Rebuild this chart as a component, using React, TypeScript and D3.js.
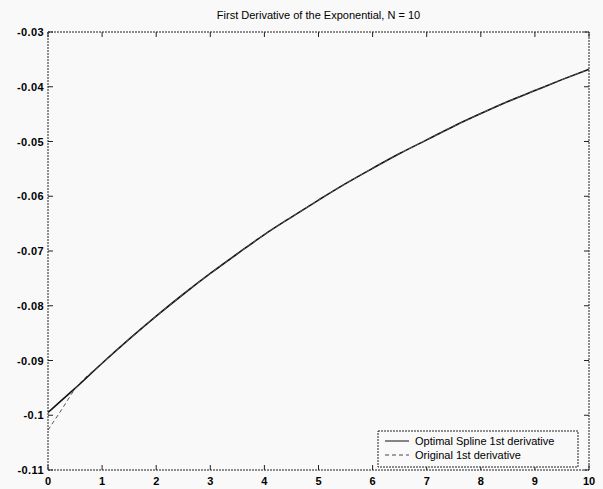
import { useRef, useEffect } from "react"
import * as d3 from "d3"

// values
const xs = [0, 0.25, 0.5, 1, 1.5, 2, 2.5, 3, 3.5, 4, 4.5, 5, 5.5, 6, 6.5, 7, 7.5, 8, 8.5, 9, 9.5, 10]
const splineValues = [
  -0.0995, -0.0973, -0.0951, -0.0905, -0.0861, -0.0819, -0.0779, -0.0741, -0.0705, -0.067, -0.0638,
  -0.0607, -0.0577, -0.0549, -0.0522, -0.0497, -0.0472, -0.0449, -0.0427, -0.0407, -0.0387, -0.0368,
]
const originalValues = [
  -0.1027, -0.099, -0.0952, -0.0905, -0.0861, -0.0819, -0.0779, -0.0741, -0.0705, -0.067, -0.0638,
  -0.0607, -0.0577, -0.0549, -0.0522, -0.0497, -0.0472, -0.0449, -0.0427, -0.0407, -0.0387, -0.0368,
]
const xTicks = [0, 1, 2, 3, 4, 5, 6, 7, 8, 9, 10]
const yTicks = [-0.03, -0.04, -0.05, -0.06, -0.07, -0.08, -0.09, -0.1, -0.11]
const legendLabels = ["Optimal Spline 1st derivative", "Original 1st derivative"]
const title = "First Derivative of the Exponential, N = 10"

export default function App() {
  const svgRef = useRef<SVGSVGElement>(null)

  function drawChart() {
    const width = 603
    const height = 489
    const left = 48
    const right = 589
    const top = 32
    const bottom = 470
    const font = "'Liberation Sans', Arial, sans-serif"

    const svg = d3.select(svgRef.current).attr("width", width).attr("height", height)
    svg.selectAll("*").remove()

    svg.append("rect").attr("width", width).attr("height", height).attr("fill", "#f9f9f9")

    const x = d3.scaleLinear().domain([0, 10]).range([left, right])
    const y = d3.scaleLinear().domain([-0.11, -0.03]).range([bottom, top])

    // box
    svg
      .append("rect")
      .attr("x", left)
      .attr("y", top)
      .attr("width", right - left)
      .attr("height", bottom - top)
      .attr("fill", "none")
      .attr("stroke", "#222")
      .attr("stroke-width", 1)
      .attr("stroke-dasharray", "2,1")

    const tickLen = 5
    const ticks = svg.append("g").attr("stroke", "#222").attr("stroke-width", 1)
    xTicks.forEach((t) => {
      ticks.append("line").attr("x1", x(t)).attr("x2", x(t)).attr("y1", bottom).attr("y2", bottom - tickLen)
      ticks.append("line").attr("x1", x(t)).attr("x2", x(t)).attr("y1", top).attr("y2", top + tickLen)
    })
    yTicks.forEach((t) => {
      ticks.append("line").attr("x1", left).attr("x2", left + tickLen).attr("y1", y(t)).attr("y2", y(t))
      ticks.append("line").attr("x1", right).attr("x2", right - tickLen).attr("y1", y(t)).attr("y2", y(t))
    })

    // tick labels
    svg
      .append("g")
      .selectAll("text")
      .data(xTicks)
      .enter()
      .append("text")
      .text((d) => d)
      .attr("x", (d) => x(d))
      .attr("y", bottom + 15)
      .attr("text-anchor", "middle")
      .style("font-size", "11px")
      .style("font-weight", "bold")
      .style("font-family", font)

    svg
      .append("g")
      .selectAll("text")
      .data(yTicks)
      .enter()
      .append("text")
      .text((d) => String(+d.toFixed(2)))
      .attr("x", left - 4)
      .attr("y", (d) => y(d) + 4)
      .attr("text-anchor", "end")
      .style("font-size", "11px")
      .style("font-weight", "bold")
      .style("letter-spacing", "0.4px")
      .style("font-family", font)

    // title
    svg
      .append("text")
      .text(title)
      .attr("x", (left + right) / 2)
      .attr("y", 19)
      .attr("text-anchor", "middle")
      .style("font-size", "11px")
      .style("font-family", font)

    // curves
    const line = d3
      .line<number>()
      .x((d, i) => x(xs[i]))
      .y((d) => y(d))
      .curve(d3.curveMonotoneX)

    svg
      .append("path")
      .attr("d", line(splineValues))
      .attr("fill", "none")
      .attr("stroke", "#111")
      .attr("stroke-width", 1.6)
    svg
      .append("path")
      .attr("d", line(originalValues))
      .attr("fill", "none")
      .attr("stroke", "#555")
      .attr("stroke-width", 1)
      .attr("stroke-dasharray", "4,3")

    // legend
    const legend = svg.append("g")
    legend
      .append("rect")
      .attr("x", 378)
      .attr("y", 431)
      .attr("width", 200)
      .attr("height", 36)
      .attr("fill", "#f9f9f9")
      .attr("stroke", "#222")
      .attr("stroke-dasharray", "2,1")
    legendLabels.forEach((label, i) => {
      const ly = 441 + i * 14
      legend
        .append("line")
        .attr("x1", 385)
        .attr("x2", 409)
        .attr("y1", ly)
        .attr("y2", ly)
        .attr("stroke", i === 0 ? "#111" : "#444")
        .attr("stroke-width", 1)
        .attr("stroke-dasharray", i === 0 ? null : "4,3")
      legend
        .append("text")
        .text(label)
        .attr("x", 415)
        .attr("y", ly + 4)
        .style("font-size", "11px")
        .style("font-family", font)
    })
  }

  useEffect(() => {
    drawChart()
  }, [svgRef])

  return (
    <div style={{ position: "absolute", left: 0, top: 0 }}>
      <svg ref={svgRef}></svg>
    </div>
  )
}
